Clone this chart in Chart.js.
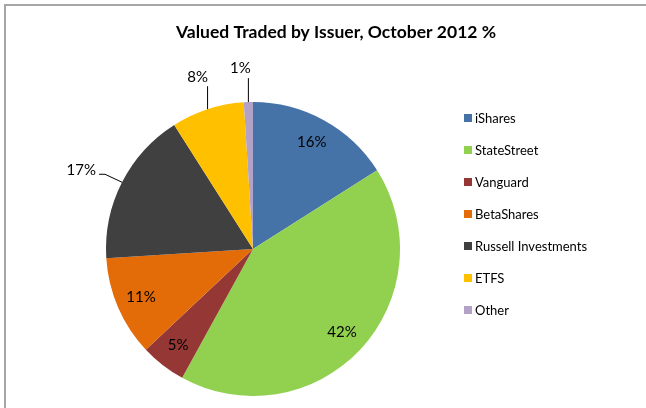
<!DOCTYPE html>
<html>
<head>
  <title>Valued Traded by Issuer</title>
  <style>
    html, body {
      margin: 0;
      padding: 0;
      background: #fff;
    }
    #frame {
      position: absolute;
      left: 4px;
      top: 4px;
      width: 660px;
      height: 420px;
      border-top: 2px solid #a6a6a6;
      border-left: 2px solid #a6a6a6;
    }
    #wrap {
      position: absolute;
      left: 0;
      top: 0;
      width: 646px;
      height: 408px;
    }
  </style>
</head>
<body>
  <div id="frame"></div>
  <div id="wrap"><canvas id="pie"></canvas></div>
  <script src="https://cdn.jsdelivr.net/npm/chart.js"></script>
  <script>
    const issuers = ['iShares', 'StateStreet', 'Vanguard', 'BetaShares', 'Russell Investments', 'ETFS', 'Other'];
    const shares = [16, 42, 5, 11, 17, 8, 1];
    const colours = ['#4572a7', '#92d050', '#953735', '#e36c09', '#404040', '#ffc000', '#b3a2c7'];
    const chartTitle = 'Valued Traded by Issuer, October 2012 %';

    const FONT = 'Lato, "Open Sans", sans-serif';

    // labels drawn outside the pie with a leader line (index -> label offset from edge point)
    const outside = {
      4: { text: [-26, -12], line: [[-17, -8], [-23, -8]], align: 'right' },
      5: { text: [-10, -32], line: [[0, -23]], align: 'center' },
      6: { text: [-8, -34], line: [[0, -24]], align: 'center' }
    };

    const piePainter = {
      id: 'piePainter',
      afterDraw(chart) {
        const ctx = chart.ctx;
        ctx.save();

        // title
        ctx.fillStyle = '#000';
        ctx.font = 'bold 17.5px ' + FONT;
        ctx.textAlign = 'center';
        ctx.textBaseline = 'middle';
        ctx.fillText(chartTitle, 336, 32);

        // slice labels
        ctx.font = '15px ' + FONT;
        const arcs = chart.getDatasetMeta(0).data;
        arcs.forEach((arc, i) => {
          const mid = (arc.startAngle + arc.endAngle) / 2;
          const txt = shares[i] + '%';
          if (outside[i]) {
            const o = outside[i];
            const ex = arc.x + arc.outerRadius * Math.cos(mid);
            const ey = arc.y + arc.outerRadius * Math.sin(mid);
            ctx.strokeStyle = '#000';
            ctx.lineWidth = 1;
            ctx.beginPath();
            ctx.moveTo(ex, ey);
            o.line.forEach(p => ctx.lineTo(ex + p[0], ey + p[1]));
            ctx.stroke();
            ctx.textAlign = o.align;
            ctx.fillText(txt, ex + o.text[0], ey + o.text[1]);
          } else {
            const r = arc.outerRadius * 0.83;
            ctx.textAlign = 'center';
            ctx.fillText(txt, arc.x + r * Math.cos(mid), arc.y + r * Math.sin(mid));
          }
        });

        // legend
        ctx.font = '13px ' + FONT;
        ctx.textAlign = 'left';
        issuers.forEach((name, i) => {
          const y = 118 + i * 32;
          ctx.fillStyle = colours[i];
          ctx.fillRect(464, y - 4, 8, 8);
          ctx.fillStyle = '#000';
          ctx.fillText(name, 475, y + 1);
        });

        ctx.restore();
      }
    };

    new Chart(document.getElementById('pie'), {
      type: 'pie',
      data: {
        labels: issuers,
        datasets: [{
          data: shares,
          backgroundColor: colours,
          borderWidth: 0
        }]
      },
      options: {
        responsive: true,
        maintainAspectRatio: false,
        animation: false,
        layout: {
          padding: { left: 106, right: 246, top: 102, bottom: 12 }
        },
        plugins: {
          legend: { display: false },
          tooltip: { enabled: false }
        }
      },
      plugins: [piePainter]
    });
  </script>
</body>
</html>
